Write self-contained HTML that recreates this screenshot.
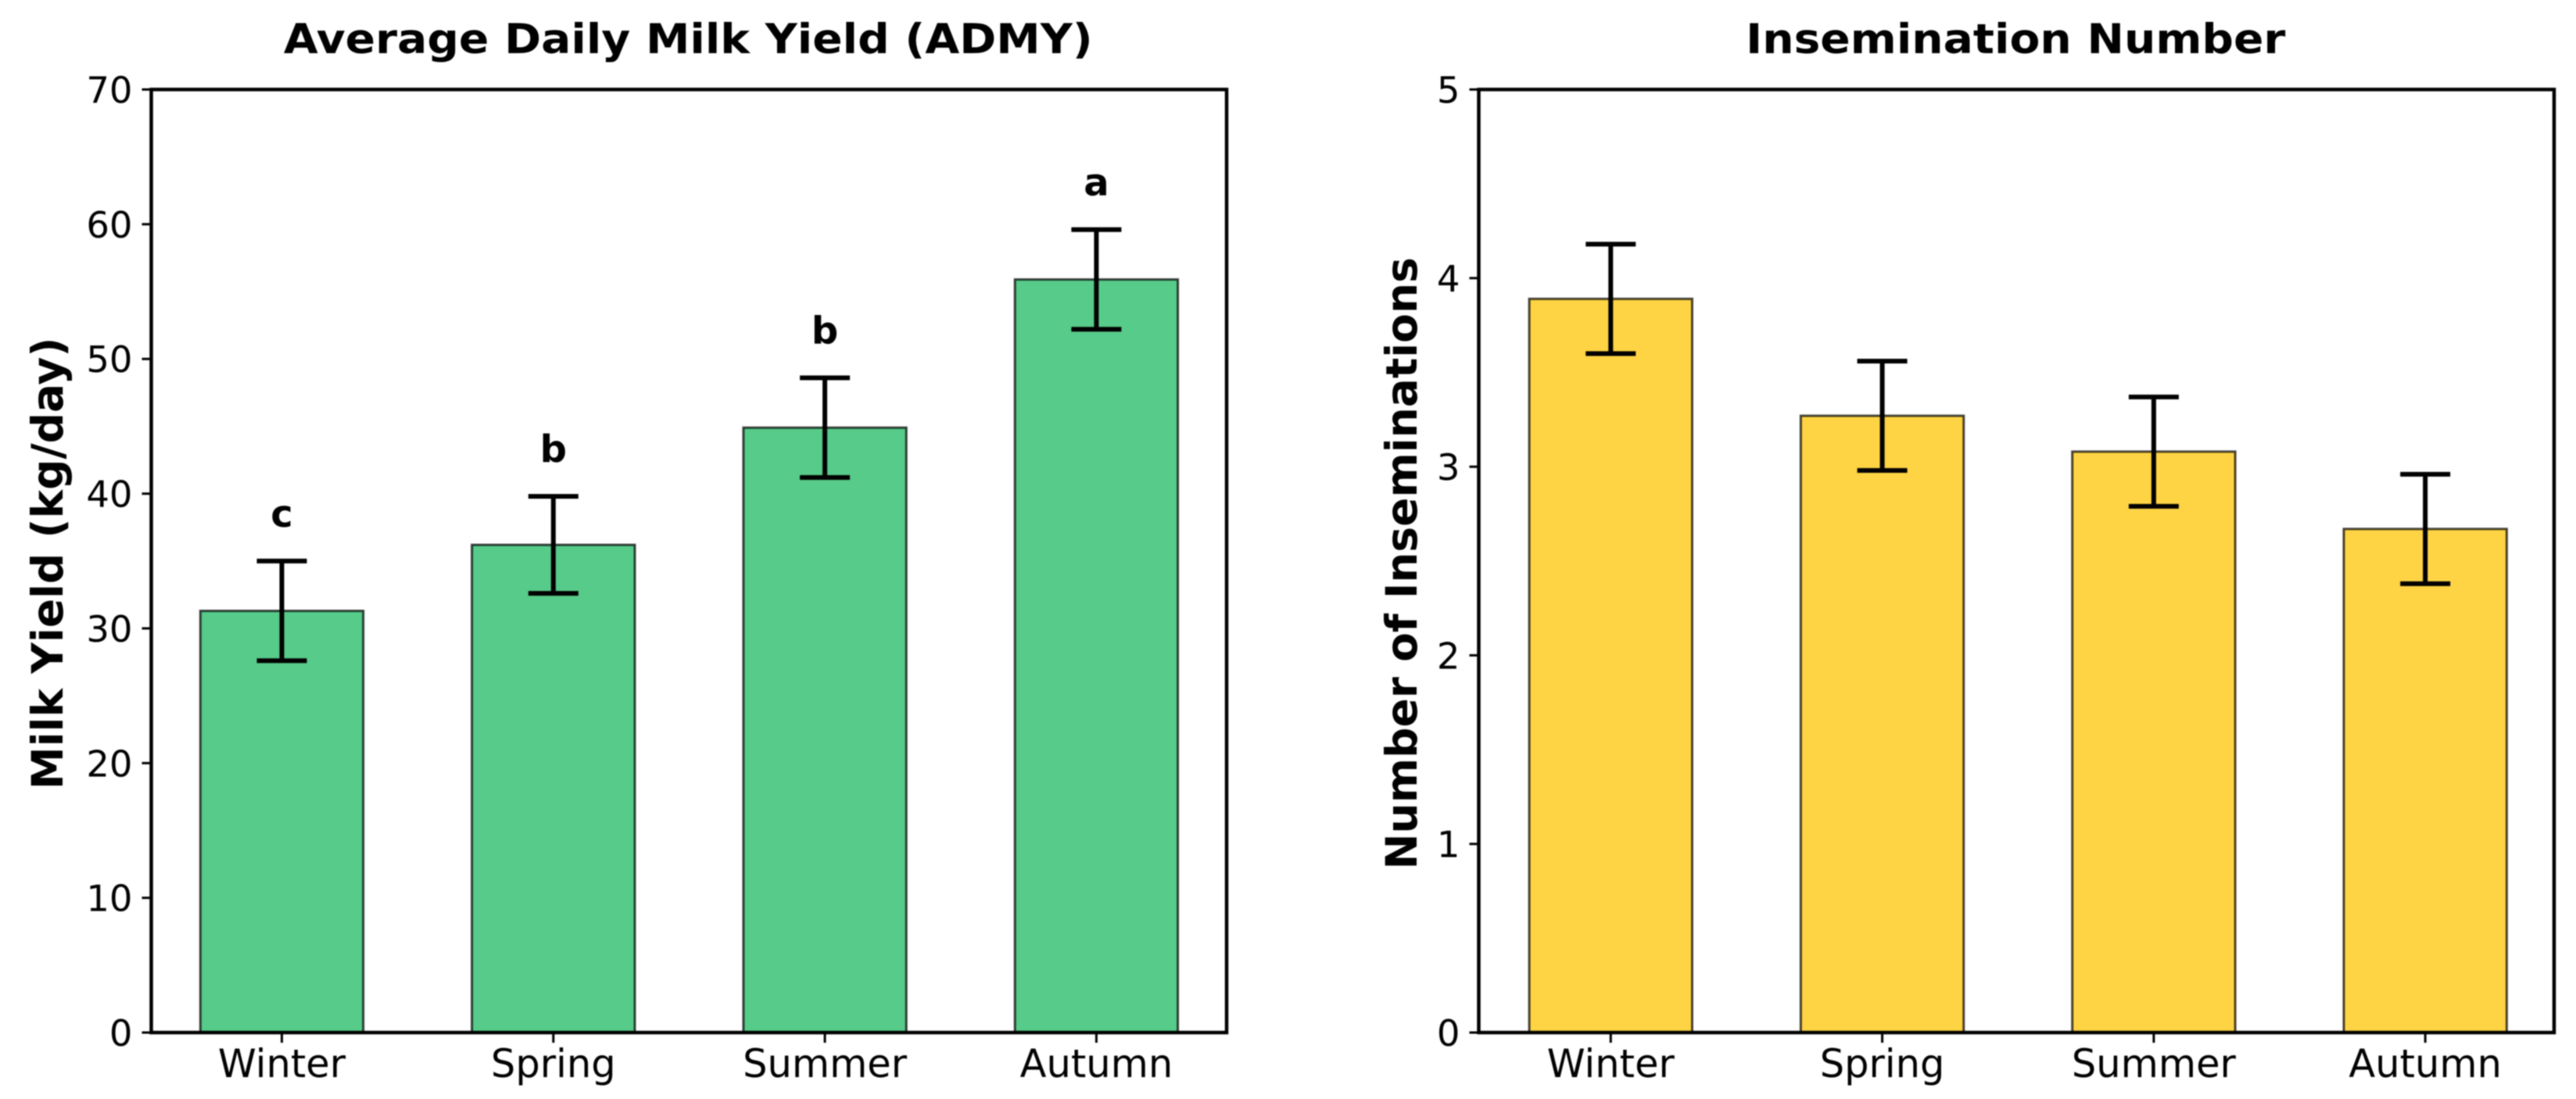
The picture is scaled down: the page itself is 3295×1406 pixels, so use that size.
<!DOCTYPE html>
<html lang="en">
<head>
<meta charset="utf-8">
<title>Average Daily Milk Yield and Insemination Number</title>
<style>
  html, body { margin: 0; padding: 0; background: #fff; }
  body { width: 3295px; height: 1406px; overflow: hidden; }
  svg { display: block; filter: blur(0.7px); }
  text { font-family: "DejaVu Sans", "Liberation Sans", sans-serif; fill: #000; }
</style>
</head>
<body>
<svg id="figure" xmlns="http://www.w3.org/2000/svg" width="3295" height="1406" viewBox="0 0 3295 1406"></svg>
<script>
const seasons = ['Winter', 'Spring', 'Summer', 'Autumn'];
const milkYield = [31.3, 36.2, 44.9, 55.9];
const milkYieldError = [3.7, 3.6, 3.7, 3.7];
const milkLetters = ['c', 'b', 'b', 'a'];
const milkTicks = [0, 10, 20, 30, 40, 50, 60, 70];
const inseminations = [3.89, 3.27, 3.08, 2.67];
const inseminationError = [0.29, 0.29, 0.29, 0.29];
const inseminationTicks = [0, 1, 2, 3, 4, 5];

const NS = 'http://www.w3.org/2000/svg';
const figure = document.getElementById('figure');

function make(parent, tag, attrs, content) {
  const el = document.createElementNS(NS, tag);
  for (const k in attrs) el.setAttribute(k, attrs[k]);
  if (content !== undefined) el.textContent = content;
  parent.appendChild(el);
  return el;
}

function drawPanel(cfg) {
  const top = 114.5, bottom = 1321;
  const yMax = cfg.ticks[cfg.ticks.length - 1];
  const y = v => bottom - (v / yMax) * (bottom - top);
  const x = i => cfg.firstCenter + i * 347.3;
  const barWidth = 208.4;

  const panel = make(figure, 'g', {});
  
  

  seasons.forEach((season, i) => {
    const bar = make(panel, 'rect', {
      x: x(i) - barWidth / 2, y: y(cfg.values[i]),
      width: barWidth, height: bottom - y(cfg.values[i]),
      fill: cfg.fill, stroke: '#000', 'stroke-opacity': 0.72, 'stroke-width': 3
    });
    
    
  });

  seasons.forEach((season, i) => {
    const hi = y(cfg.values[i] + cfg.errors[i]);
    const lo = y(cfg.values[i] - cfg.errors[i]);
    const err = make(panel, 'g', { stroke: '#000', fill: 'none' });
    
    
    make(err, 'line', { x1: x(i), x2: x(i), y1: hi, y2: lo, 'stroke-width': 6 });
    make(err, 'line', { x1: x(i) - 32, x2: x(i) + 32, y1: hi, y2: hi, 'stroke-width': 6 });
    make(err, 'line', { x1: x(i) - 32, x2: x(i) + 32, y1: lo, y2: lo, 'stroke-width': 6 });
  });

  if (cfg.letters) {
    seasons.forEach((season, i) => {
      const baseline = y(cfg.values[i] + cfg.errors[i]) - 44;
      const letter = make(panel, 'text', {
        x: x(i), y: baseline, 'text-anchor': 'middle',
        'font-size': 48, 'font-weight': 700
      }, cfg.letters[i]);
      
      
    });
  }

  const frame = make(panel, 'rect', {
    x: cfg.left, y: top, width: cfg.right - cfg.left, height: bottom - top,
    fill: 'none', stroke: '#000', 'stroke-width': 4.5
  });
  
  

  cfg.ticks.forEach(t => {
    const mark = make(panel, 'line', {
      x1: cfg.left - 12, x2: cfg.left, y1: y(t), y2: y(t), stroke: '#000', 'stroke-width': 3
    });
    
    
    const label = make(panel, 'text', {
      x: cfg.left - 24, y: y(t) + 17, 'text-anchor': 'end', 'font-size': 46.5
    }, String(t));
    
    
  });

  seasons.forEach((season, i) => {
    const mark = make(panel, 'line', {
      x1: x(i), x2: x(i), y1: bottom, y2: bottom + 13, stroke: '#000', 'stroke-width': 3
    });
    
    
    const label = make(panel, 'text', {
      x: x(i), y: 1378, 'text-anchor': 'middle', 'font-size': 49.5
    }, season);
    
    
  });

  const title = make(panel, 'text', {
    transform: 'translate(' + ((cfg.left + cfg.right) / 2 - 1) + ' 68) scale(1.07 1)',
    'text-anchor': 'middle', 'font-size': 53, 'font-weight': 700
  }, cfg.title);
  
  

  const yTitle = make(panel, 'text', {
    transform: 'translate(' + cfg.yTitleX + ' ' + ((top + bottom) / 2 + 3) + ') rotate(-90)',
    'text-anchor': 'middle', 'font-size': 55, 'font-weight': 700
  }, cfg.yTitle);
  
  
}

drawPanel({
  key: 'milk-yield', left: 193.5, right: 1569, firstCenter: 360.5,
  values: milkYield, errors: milkYieldError, ticks: milkTicks, letters: milkLetters,
  fill: '#57cb89', title: 'Average Daily Milk Yield (ADMY)',
  yTitle: 'Milk Yield (kg/day)', yTitleX: 80
});

drawPanel({
  key: 'insemination', left: 1891.5, right: 3267, firstCenter: 2060.3,
  values: inseminations, errors: inseminationError, ticks: inseminationTicks, letters: null,
  fill: '#ffd444', title: 'Insemination Number',
  yTitle: 'Number of Inseminations', yTitleX: 1812
});
</script>
</body>
</html>
